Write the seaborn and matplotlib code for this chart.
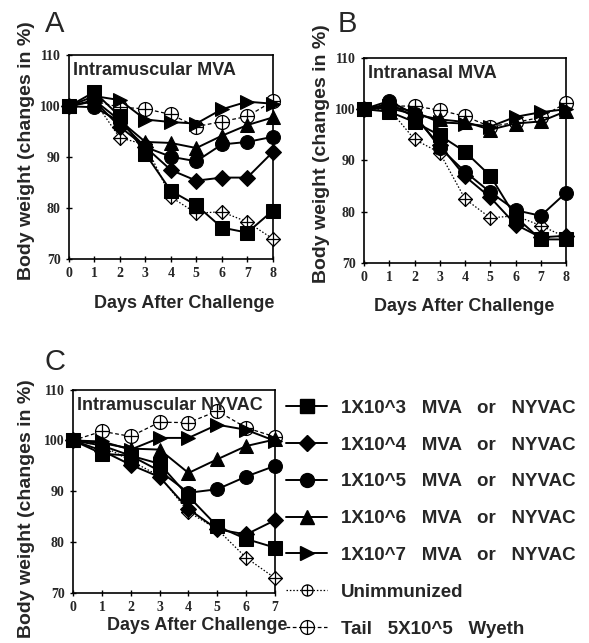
import pandas as pd
import seaborn as sns
import matplotlib.pyplot as plt
from matplotlib.path import Path
from matplotlib.lines import Line2D

days_ab = [0, 1, 2, 3, 4, 5, 6, 7, 8]
days_c = [0, 1, 2, 3, 4, 5, 6, 7]

groups = ['1X10^3   MVA   or   NYVAC', '1X10^4   MVA   or   NYVAC',
          '1X10^5   MVA   or   NYVAC', '1X10^6   MVA   or   NYVAC',
          '1X10^7   MVA   or   NYVAC', 'Unimmunized', 'Tail   5X10^5   Wyeth']

# A: intramuscular MVA
im_mva_1e3 = [100, 102.8, 98.0, 90.7, 83.4, 80.6, 76.2, 75.2, 79.5]
im_mva_1e4 = [100, 101.0, 96.0, 92.0, 87.5, 85.4, 86.0, 86.0, 91.0]
im_mva_1e5 = [100, 99.8, 97.0, 92.0, 90.1, 89.2, 92.5, 93.0, 94.0]
im_mva_1e6 = [100, 101.2, 97.2, 93.0, 92.8, 91.8, 94.2, 96.3, 97.8]
im_mva_1e7 = [100, 102.0, 101.2, 97.4, 96.9, 96.6, 99.4, 100.9, 100.5]
im_mva_unimm = [100, 101.0, 93.8, 92.5, 82.2, 79.0, 79.3, 77.3, 74.0]
im_mva_tail = [100, 101.0, 99.8, 99.5, 98.4, 96.0, 97.0, 98.0, 101.0]

# B: intranasal MVA
in_mva_1e3 = [100, 99.5, 97.5, 94.9, 91.7, 87.0, 79.0, 74.6, 74.6]
in_mva_1e4 = [100, 101.0, 98.5, 93.0, 86.9, 82.8, 77.5, 75.0, 75.3]
in_mva_1e5 = [100, 101.6, 99.0, 92.5, 87.8, 83.8, 80.3, 79.2, 83.7]
in_mva_1e6 = [100, 100.2, 99.0, 98.0, 97.5, 96.0, 97.2, 97.6, 99.6]
in_mva_1e7 = [100, 100.6, 99.5, 97.4, 97.2, 96.6, 98.5, 99.4, 100.0]
in_mva_unimm = [100, 100.0, 94.1, 91.5, 82.5, 78.8, 79.2, 77.3, 75.0]
in_mva_tail = [100, 100.6, 100.6, 99.8, 98.6, 96.6, 97.4, 98.4, 101.2]

# C: intramuscular NYVAC
im_nyvac_1e3 = [100, 97.4, 97.0, 95.4, 89.0, 83.1, 80.6, 78.9]
im_nyvac_1e4 = [100, 98.0, 95.2, 92.8, 86.5, 82.5, 81.5, 84.3]
im_nyvac_1e5 = [100, 99.0, 97.0, 94.0, 89.7, 90.4, 92.9, 95.0]
im_nyvac_1e6 = [100, 99.5, 98.4, 98.2, 93.6, 96.3, 98.9, 100.2]
im_nyvac_1e7 = [100, 99.8, 98.2, 100.5, 100.5, 103.1, 102.1, 99.9]
im_nyvac_unimm = [100, 99.0, 96.0, 93.0, 85.9, 82.5, 76.9, 72.9]
im_nyvac_tail = [100, 101.8, 100.8, 103.6, 103.5, 105.8, 102.5, 100.7]

sns.set_style('ticks')
plt.rcParams['font.family'] = ['Liberation Sans', 'DejaVu Sans']


def circle_cross():
    return Path.make_compound_path(
        Path.unit_circle(),
        Path([[-1, 0], [1, 0]], [Path.MOVETO, Path.LINETO]),
        Path([[0, -1], [0, 1]], [Path.MOVETO, Path.LINETO]))


def diamond_cross():
    diamond = Path([[0, 1], [1, 0], [0, -1], [-1, 0], [0, 1]],
                   [Path.MOVETO, Path.LINETO, Path.LINETO, Path.LINETO, Path.CLOSEPOLY])
    return Path.make_compound_path(
        diamond,
        Path([[-1, 0], [1, 0]], [Path.MOVETO, Path.LINETO]),
        Path([[0, -1], [0, 1]], [Path.MOVETO, Path.LINETO]))


dose_markers = dict(zip(groups[:5], ['s', 'D', 'o', '^', '>']))
dose_sizes = dict(zip(groups[:5], [10.5, 8, 10, 10, 10]))
ctrl_markers = {groups[5]: diamond_cross(), groups[6]: circle_cross()}
ctrl_dashes = {groups[5]: (1.2, 1.5), groups[6]: (3, 2)}


def make_df(days, series):
    frames = [pd.DataFrame({'day': days, 'weight': vals, 'group': g})
              for g, vals in zip(groups, series)]
    return pd.concat(frames, ignore_index=True)


def plot_panel(ax, df, title, xmax, xlab_pos, ylab_pos):
    ctrl = df[df['group'].isin(groups[5:])]
    sns.lineplot(data=ctrl, x='day', y='weight', style='group',
                 style_order=groups[5:], markers=ctrl_markers, dashes=ctrl_dashes,
                 color='black', lw=0.9, markersize=10, markerfacecolor='white',
                 markeredgecolor='black', markeredgewidth=0.9, errorbar=None,
                 legend=False, ax=ax, clip_on=False, zorder=3)
    for g in groups[:5]:
        sub = df[df['group'] == g]
        sns.lineplot(data=sub, x='day', y='weight', marker=dose_markers[g],
                     color='black', lw=1.4, markersize=dose_sizes[g],
                     markerfacecolor='black', markeredgecolor='black',
                     errorbar=None, legend=False, ax=ax, clip_on=False, zorder=4)
    ax.set_xlim(0, xmax)
    ax.set_ylim(70, 110)
    ax.set_xticks(range(xmax + 1))
    ax.set_yticks([70, 80, 90, 100, 110])
    for s in ax.spines.values():
        s.set_visible(True)
        s.set_linewidth(1.2)
        s.set_color('black')
    ax.tick_params(direction='inout', length=5, width=1, color='black')
    for lab in ax.get_xticklabels() + ax.get_yticklabels():
        lab.set_fontfamily('Liberation Serif')
        lab.set_fontweight('bold')
        lab.set_fontsize(10)
    ax.set_xlabel('Days After Challenge', fontsize=13, fontweight='bold')
    ax.set_ylabel('Body weight (changes in %)', fontsize=14, fontweight='bold')
    ax.xaxis.set_label_coords(*xlab_pos)
    ax.yaxis.set_label_coords(*ylab_pos)
    ax.text(0.02, 0.965, title, transform=ax.transAxes, ha='left', va='top',
            fontsize=13, fontweight='bold')


df_a = make_df(days_ab, [im_mva_1e3, im_mva_1e4, im_mva_1e5, im_mva_1e6,
                         im_mva_1e7, im_mva_unimm, im_mva_tail])
df_b = make_df(days_ab, [in_mva_1e3, in_mva_1e4, in_mva_1e5, in_mva_1e6,
                         in_mva_1e7, in_mva_unimm, in_mva_tail])
df_c = make_df(days_c, [im_nyvac_1e3, im_nyvac_1e4, im_nyvac_1e5, im_nyvac_1e6,
                        im_nyvac_1e7, im_nyvac_unimm, im_nyvac_tail])

fig = plt.figure(figsize=(5.89, 6.43), dpi=100)
ax_a = fig.add_axes([0.117, 0.597, 0.346, 0.317])
ax_b = fig.add_axes([0.618, 0.591, 0.343, 0.319])
ax_c = fig.add_axes([0.124, 0.078, 0.343, 0.316])

plot_panel(ax_a, df_a, 'Intramuscular MVA', 8, (0.564, -0.176), (-0.167, 0.534))
plot_panel(ax_b, df_b, 'Intranasal MVA', 8, (0.495, -0.171), (-0.168, 0.532))
plot_panel(ax_c, df_c, 'Intramuscular NYVAC', 7, (0.614, -0.118), (-0.188, 0.414))

fig.text(0.076, 0.962, 'A', fontsize=21, ha='left', va='center')
fig.text(0.574, 0.962, 'B', fontsize=21, ha='left', va='center')
fig.text(0.076, 0.437, 'C', fontsize=21, ha='left', va='center')

handles = []
for g in groups[:5]:
    handles.append(Line2D([], [], color='black', lw=1.4, marker=dose_markers[g],
                          markersize=dose_sizes[g], markerfacecolor='black',
                          markeredgecolor='black'))
handles.append(Line2D([], [], color='black', lw=0.9, dashes=ctrl_dashes[groups[5]],
                      marker=circle_cross(), markersize=8, markerfacecolor='white',
                      markeredgecolor='black', markeredgewidth=0.9))
handles.append(Line2D([], [], color='black', lw=0.9, dashes=ctrl_dashes[groups[6]],
                      marker=circle_cross(), markersize=10, markerfacecolor='white',
                      markeredgecolor='black', markeredgewidth=0.9))
fig.legend(handles, groups, loc='upper left', bbox_to_anchor=(0.470, 0.393),
           frameon=False, borderpad=0, handlelength=2.2, handletextpad=0.7,
           labelspacing=1.05, prop={'weight': 'bold', 'size': 13.5})

fig.savefig('out.png', dpi=100)
